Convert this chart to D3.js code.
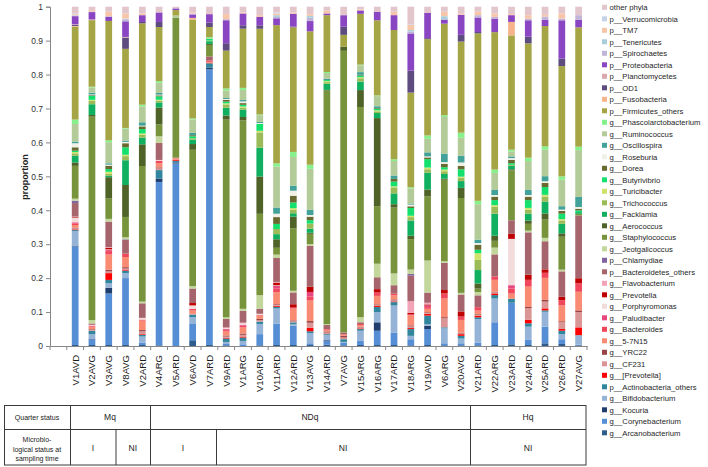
<!DOCTYPE html>
<html><head><meta charset="utf-8">
<script src="https://cdn.jsdelivr.net/npm/d3@7"></script>
<style>body{margin:0;background:#fff}svg{display:block;font-family:"Liberation Sans",Arial,sans-serif}</style>
</head><body><svg id="c" width="708" height="467"></svg>
<script>
const samples = ["V1AVD","V2AVG","V3AVG","V8AVG","V2ARD","V4ARG","V5ARD","V6AVD","V7ARD","V9ARD","V1ARG","V10ARD","V11ARD","V12ARD","V13AVG","V14ARD","V7AVG","V15ARG","V16ARG","V17ARD","V18ARG","V19AVD","V6ARG","V20AVG","V21ARD","V22ARG","V23ARD","V24ARD","V25ARD","V26ARD","V27AVG"];
const yTicks = [0,0.1,0.2,0.3,0.4,0.5,0.6,0.7,0.8,0.9,1];

// series values (one per sample), bottom of stack first
const arcanobacterium = [.003,.003,.003,.003,.003,.002,0,.017,.003,.002,0,.002,.003,.003,.003,.004,.002,.003,.003,.003,.002,.003,.002,.002,.002,.003,.005,.003,.008,.006,.002];
const corynebacterium = [.292,.017,.152,.197,.007,.483,.538,.048,.815,.004,.005,.033,.062,.057,.005,.01,.008,.012,.042,.037,.018,.047,.006,.006,.008,.067,.123,.015,.049,.014,.002];
const kocuria = [.002,.002,.017,0,0,.01,.003,0,.005,0,0,0,0,0,0,.003,0,0,.025,0,0,.01,0,0,0,0,0,0,0,0,0];
const bifidobacterium = [.043,.013,.013,.015,.018,0,0,.02,0,.006,.01,.03,.045,.005,.03,.015,.002,.03,.03,.08,.01,.005,.044,.014,.07,.07,0,.039,.044,.015,.028];
const actinobacteriaOthers = [.003,.01,.01,.007,.005,.025,.005,.008,.012,.01,.01,.007,.005,.005,.005,.003,.008,.005,.015,.01,.02,.025,.003,.008,.005,.01,.012,.01,.004,.01,0];
const prevotellaBracket = [.002,0,.02,.003,.002,0,.003,0,0,.002,.003,0,.003,0,.01,0,0,.002,.003,.002,.003,.005,0,.005,.005,.005,0,.01,.006,.005,.023];
const cf231 = [.003,.003,.005,.003,.008,.005,0,.002,0,.004,.005,.004,.003,.003,.015,.005,.005,.003,.003,.003,.005,.003,.027,.002,.003,.003,0,.035,.02,.02,.045];
const yrc22 = [.002,.002,.005,.004,.004,.003,0,0,.002,.003,.004,.004,.002,.003,.005,.003,.005,.002,.002,.003,.003,.002,.003,.002,.002,.002,0,.003,.005,.003,.005];
const s57n15 = [.008,.006,.045,.03,.028,.012,.004,.01,.003,.012,.018,.01,.035,.035,.06,.005,.003,.005,.025,.012,.03,.01,.055,.038,.01,.035,.015,.06,.065,.047,.055];
const bacteroides = [.005,.003,.01,.01,.003,.008,.002,.005,.004,.004,.005,.002,.01,.003,.012,.002,.002,.003,.01,.005,.003,.005,.015,.01,.01,.01,.015,.02,.015,.015,.025];
const paludibacter = [.003,0,.003,0,0,0,0,0,0,.003,.003,0,.008,0,.013,0,0,0,0,0,0,.005,0,0,0,0,.01,0,0,0,0];
const porphyromonas = [.013,.002,.002,0,.005,.002,0,.01,0,.003,.004,.003,.002,0,0,0,0,0,0,0,0,0,0,0,0,0,.137,0,0,0,0];
const prevotella = [.002,0,.005,0,0,0,0,.007,0,0,0,0,.008,.01,.015,0,0,0,.01,0,.004,.003,.01,.015,0,0,.015,.015,.01,.01,.015];
const flavobacterium = [.002,.002,.002,0,0,0,0,0,0,.002,.002,0,.002,0,0,0,0,0,0,0,.035,.005,0,0,0,0,0,0,0,0,0];
const bacteroidetesOthers = [.04,.004,.075,.04,.043,.05,0,.043,.012,.025,.035,.015,.07,.035,.12,.012,.005,.005,.035,.025,.075,.03,.08,.05,.035,.065,.04,.125,.083,.075,.185];
const chlamydiae = [.007,0,0,.002,0,0,0,0,0,0,0,0,0,0,0,0,0,0,0,0,.005,0,0,0,0,0,0,0,0,0,0];
const jeotgalicoccus = [.006,.01,.008,.006,.005,.02,0,.007,0,.005,.006,.04,.01,.005,.005,.003,0,.015,.04,.035,.013,.095,.005,.005,.01,.02,0,.005,.01,.005,0];
const staphylococcus = [.097,.605,.06,.06,.4,.035,.412,.403,.034,.585,.557,.24,.02,.185,.03,.69,.83,.62,.17,.195,.09,.19,.24,.28,.01,.02,.148,.02,.054,.097,.005];
const aerococcus = [.01,.005,.063,.094,.064,.05,0,.017,.003,.012,.01,.11,.025,.035,.003,.002,.012,.05,.26,.01,.01,.02,.003,.03,.015,.015,.003,.01,.018,.01,0];
const facklamia = [.02,.032,.004,.073,.02,.015,0,.013,.008,.023,.022,.085,.015,.01,.012,.018,0,.025,.015,.032,.045,.05,.014,.02,.04,.065,.01,.02,.035,.028,.005];
const trichococcus = [.007,.01,.006,.012,.008,.005,0,.004,.002,.01,.006,.045,.015,.01,.015,.005,0,.01,.005,.018,.01,.01,.008,.01,.03,.02,.003,.012,.015,.01,0];
const turicibacter = [.004,.003,.006,.004,.004,.003,0,0,0,.003,.003,.005,0,.005,0,.003,0,.003,.003,.003,.004,.005,.005,.003,.02,.005,0,.005,.005,.004,0];
const butyrivibrio = [.004,.012,.008,.022,.013,.01,0,.006,.005,.005,.005,.02,.015,.017,.01,.003,0,.005,.005,.014,.023,.025,.007,.022,.01,.015,.005,.023,.023,.016,.005];
const dorea = [.01,.002,.01,.012,.008,.003,0,.003,0,.005,.005,0,.02,.02,.01,0,0,.002,.002,.008,.005,.005,.01,.01,.015,.01,.01,.01,.012,.008,.005];
const roseburia = [.012,.002,.003,.004,.002,.002,0,0,0,.003,.005,.003,.01,.015,.005,0,0,0,0,0,.005,.003,.005,.01,.005,.005,.005,.005,.005,.004,.005];
const oscillospira = [.005,.005,.004,.004,.01,.005,0,.007,0,.003,.004,.003,.018,.015,.015,.004,0,.008,.005,.01,.003,.012,.025,.02,.01,.015,.005,.015,.015,.01,.03];
const ruminococcus = [.052,.016,.062,.035,.047,.03,.007,.04,.002,.022,.03,.02,.12,.085,.12,.017,0,.02,.03,.043,.045,.04,.108,.053,.105,.05,.015,.085,.078,.078,.138];
const phascolarctobacterium = [.013,.002,.006,.002,.005,.005,0,.003,.003,.006,.006,.002,.01,.015,.012,.003,0,.002,.002,.005,.003,.01,.005,.015,.01,.01,.005,.01,.01,.01,.01];
const firmicutesOthers = [.275,.198,.352,.233,.24,.16,.016,.292,.03,.112,.175,.253,.405,.37,.39,.168,.035,.15,.222,.383,.28,.285,.27,.269,.496,.405,.338,.337,.355,.325,.352];
const fusobacteria = [.002,0,0,0,0,0,0,.005,0,0,0,0,0,0,0,0,0,0,0,0,0,0,0,0,0,0,.04,0,0,0,0];
const od1 = [.003,0,0,.033,.004,.015,0,0,.013,.022,.01,.01,0,.002,0,0,.024,0,0,0,.065,.003,0,.02,.004,0,0,.02,0,.022,0];
const planctomycetes = [.002,.002,0,.002,0,0,0,0,0,0,0,0,0,0,0,0,0,0,0,0,0,0,0,0,0,0,0,0,0,0,0];
const proteobacteria = [.024,.022,.012,.046,.02,.028,.005,.01,.025,.068,.035,.025,.02,.038,.03,.005,.034,.01,.025,.044,.11,.075,.012,.059,.043,.04,.02,.048,.018,.113,.022];
const spirochaetes = [.002,.002,.002,.006,0,0,0,.003,0,.003,0,0,.004,0,.01,0,0,0,0,0,.006,0,0,0,.007,.005,0,.005,.01,.005,.014];
const tenericutes = [.001,0,0,.002,0,0,0,0,0,0,0,0,.005,0,.005,0,0,0,0,0,.004,0,.01,0,0,0,0,0,0,0,0];
const tm7 = [.003,.004,.013,.015,.005,0,0,.003,0,.015,.003,.005,.005,.003,.005,.008,0,.003,0,.01,.015,0,.013,.003,.01,.01,.003,.01,.005,.015,0];
const verrucomicrobia = [.002,0,0,0,0,0,0,0,0,0,0,0,.003,0,0,0,0,0,0,0,.002,0,0,0,0,0,0,0,0,0,0];
const otherPhyla = [.02,.01,.015,.02,.02,.017,.005,.017,.022,.022,.017,.025,.017,.018,.022,.012,.025,.008,.015,.015,.052,.018,.015,.021,.015,.02,.022,.025,.024,.02,.025];

const seriesNames = ["g__Arcanobacterium","g__Corynebacterium","g__Kocuria","g__Bifidobacterium","p__Actinobacteria_others","g__[Prevotella]","g__CF231","g__YRC22","g__5-7N15","g__Bacteroides","g__Paludibacter","g__Porphyromonas","g__Prevotella","g__Flavobacterium","p__Bacteroidetes_others","p__Chlamydiae","g__Jeotgalicoccus","g__Staphylococcus","g__Aerococcus","g__Facklamia","g__Trichococcus","g__Turicibacter","g__Butyrivibrio","g__Dorea","g__Roseburia","g__Oscillospira","g__Ruminococcus","g__Phascolarctobacterium","p__Firmicutes_others","p__Fusobacteria","p__OD1","p__Planctomycetes","p__Proteobacteria","p__Spirochaetes","p__Tenericutes","p__TM7","p__Verrucomicrobia","other phyla"];
const seriesValues = [arcanobacterium,corynebacterium,kocuria,bifidobacterium,actinobacteriaOthers,prevotellaBracket,cf231,yrc22,s57n15,bacteroides,paludibacter,porphyromonas,prevotella,flavobacterium,bacteroidetesOthers,chlamydiae,jeotgalicoccus,staphylococcus,aerococcus,facklamia,trichococcus,turicibacter,butyrivibrio,dorea,roseburia,oscillospira,ruminococcus,phascolarctobacterium,firmicutesOthers,fusobacteria,od1,planctomycetes,proteobacteria,spirochaetes,tenericutes,tm7,verrucomicrobia,otherPhyla];
const seriesColors = ["#2E5C8C","#558ED5","#1F3E6E","#95B3D7","#31859C","#FF0000","#DA9694","#9B4447","#F98B72","#F0475A","#E6477F","#F2DCDB","#C00000","#F2A3B7","#A6646C","#8064A2","#C3D69B","#77933C","#4F6228","#10B060","#9BBB59","#CFE36B","#14E06E","#686A30","#F0F0E6","#42A198","#B2CB98","#86F08A","#A6A546","#F5B48A","#5E4B80","#D9A9AE","#8A45C2","#C0B5D8","#A9CFDA","#F7C6A8","#C5D3E8","#E3C6CB"];

const quarterStatus = [{label:"Mq",from:70,to:150},{label:"NDq",from:150,to:470},{label:"Hq",from:470,to:586}];
const microStatus = [{label:"I",from:70,to:115.7},{label:"NI",from:115.7,to:150},{label:"I",from:150,to:216},{label:"NI",from:216,to:470},{label:"NI",from:470,to:586}];

const svg = d3.select("#c");
svg.append("rect").attr("width",708).attr("height",467).attr("fill","#fff");

const x = d3.scaleBand().domain([""].concat(samples)).range([50,587]).paddingInner(0.6).paddingOuter(0.3);
const y = d3.scaleLinear().domain([0,1]).range([346,6.7]);

const rows = samples.map((s,i)=>{const r={sample:s}; seriesNames.forEach((n,k)=>r[n]=seriesValues[k][i]); return r;});
const stacked = d3.stack().keys(seriesNames).offset(d3.stackOffsetExpand)(rows);

const gBars = svg.append("g");
stacked.forEach((layer,k)=>{
  gBars.selectAll(null).data(layer).join("rect")
    .attr("x",d=>x(d.data.sample)).attr("width",x.bandwidth())
    .attr("y",d=>y(d[1])).attr("height",d=>Math.max(0,y(d[0])-y(d[1])))
    .attr("fill",seriesColors[k]);
});

// y axis
const yAxis = svg.append("g").attr("transform","translate(50,0)")
  .call(d3.axisLeft(y).tickValues(yTicks).tickFormat(d=>String(+d.toFixed(1))).tickSize(4).tickPadding(3));
yAxis.select(".domain").attr("stroke","#868686");
yAxis.selectAll(".tick line").attr("stroke","#868686");
yAxis.selectAll("text").attr("font-size","8.5px").attr("fill","#333").attr("font-family","Liberation Sans, Arial, sans-serif");

// x axis
const xAxis = svg.append("g").attr("transform","translate(0,346)")
  .call(d3.axisBottom(x).tickSize(0).tickFormat(""));
xAxis.select(".domain").attr("stroke","#868686");
xAxis.selectAll(".tick").remove();
const step = x.step();
const bounds = x.domain().map(d=>x(d)-(step-x.bandwidth())/2).concat([x(samples[samples.length-1])+x.bandwidth()+(step-x.bandwidth())/2]);
xAxis.selectAll("line.tk").data(bounds).join("line").attr("class","tk")
  .attr("x1",d=>d).attr("x2",d=>d).attr("y1",0).attr("y2",4).attr("stroke","#868686");
svg.append("g").selectAll("text").data(samples).join("text")
  .attr("transform",d=>`translate(${x(d)+x.bandwidth()/2},355) rotate(-90)`)
  .attr("text-anchor","end").attr("dy","0.35em")
  .attr("font-size","9.5px").attr("fill","#1a1a1a").text(d=>d);

svg.append("text").attr("transform","translate(25,177) rotate(-90)")
  .attr("text-anchor","middle").attr("dy","0.35em")
  .attr("font-size","9px").attr("font-weight","bold").attr("fill","#222").text("proportion");

// legend (top item = last series)
const legendItems = seriesNames.map((n,k)=>({name:n,color:seriesColors[k]})).reverse();
const lg = svg.append("g").selectAll("g").data(legendItems).join("g")
  .attr("transform",(d,i)=>`translate(602,${7.3+i*11.5})`);
lg.append("rect").attr("x",0).attr("y",-2.5).attr("width",5).attr("height",5).attr("fill",d=>d.color);
lg.append("text").attr("x",7.5).attr("dy","0.35em").attr("font-size","7.7px").attr("fill","#262626").text(d=>d.name);

// table
const tb = svg.append("g").attr("stroke","#3a3a3a").attr("stroke-width",1).attr("fill","none");
tb.append("rect").attr("x",4.5).attr("y",405.5).attr("width",581.5).attr("height",59.5);
tb.append("line").attr("x1",4.5).attr("x2",586).attr("y1",429.5).attr("y2",429.5);
[70.5,150.5,470.5].forEach(v=>tb.append("line").attr("x1",v).attr("x2",v).attr("y1",405.5).attr("y2",465));
[116,216.5].forEach(v=>tb.append("line").attr("x1",v).attr("x2",v).attr("y1",429.5).attr("y2",465));
const tt = svg.append("g").attr("fill","#222").attr("text-anchor","middle");
tt.append("text").attr("x",37).attr("y",417.5).attr("dy","0.35em").attr("font-size","7px").text("Quarter status");
["Microbio-","logical status at","sampling time"].forEach((t,i)=>tt.append("text").attr("x",37).attr("y",439.5+i*9.6).attr("dy","0.35em").attr("font-size","7px").text(t));
quarterStatus.forEach(q=>tt.append("text").attr("x",(q.from+q.to)/2).attr("y",417.5).attr("dy","0.35em").attr("font-size","8.5px").text(q.label));
microStatus.forEach(q=>tt.append("text").attr("x",(q.from+q.to)/2).attr("y",448).attr("dy","0.35em").attr("font-size","8.5px").text(q.label));
</script></body></html>
